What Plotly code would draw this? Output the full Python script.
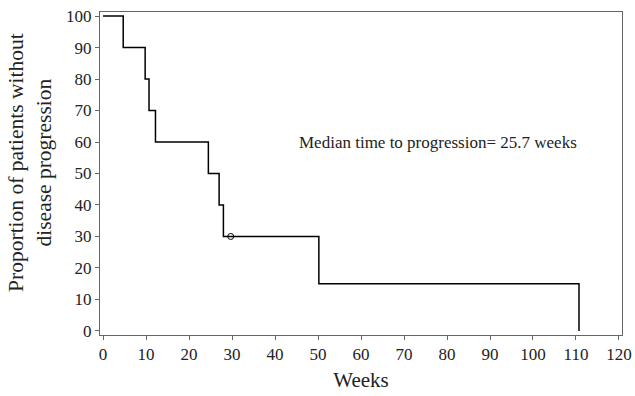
import plotly.graph_objects as go

# Kaplan-Meier step data (weeks, % without progression)
weeks = [0, 4.7, 9.8, 10.7, 12.2, 24.5, 27.0, 28.0, 50.2, 110.7, 110.7]
surv = [100, 90, 80, 70, 60, 50, 40, 30, 15, 15, 0]
censor_weeks = [29.7]
censor_surv = [30]

x_ticks = list(range(0, 121, 10))
y_ticks = list(range(0, 101, 10))

font = "Liberation Serif"

fig = go.Figure()
fig.add_trace(go.Scatter(x=weeks, y=surv, mode="lines", line=dict(shape="hv", color="black", width=1.5),
                         showlegend=False, hoverinfo="skip"))
fig.add_trace(go.Scatter(x=censor_weeks, y=censor_surv, mode="markers",
                         marker=dict(symbol="circle-open", size=6, color="black", line=dict(width=1)),
                         showlegend=False))

fig.add_annotation(x=45.1, y=59.7, xanchor="left", yanchor="middle", showarrow=False,
                   text="Median time to progression= 25.7 weeks",
                   font=dict(family=font, size=17, color="#222"))

# y-axis title as a rotated annotation for precise placement
fig.add_annotation(xref="paper", yref="paper", x=-0.134, y=0.533, xanchor="center", yanchor="middle",
                   showarrow=False, textangle=-90,
                   text="Proportion of patients without<br>disease progression",
                   font=dict(family=font, size=21.5, color="#222"))

axis_common = dict(showgrid=False, zeroline=False, showline=True, linecolor="#666", linewidth=1,
                   mirror=True, ticks="outside", ticklen=4, tickcolor="#666", automargin=False,
                   tickfont=dict(family=font, size=17, color="#222"))

fig.update_xaxes(range=[-0.7, 120.7], tickvals=x_ticks,
                 title=dict(text="Weeks", font=dict(family=font, size=21, color="#222"), standoff=8),
                 **axis_common)
fig.update_yaxes(range=[-1.3, 101.3], tickvals=y_ticks, **axis_common)

fig.update_layout(width=635, height=396, margin=dict(l=100, r=13, t=12, b=61),
                  font=dict(family=font),
                  plot_bgcolor="white", paper_bgcolor="white")

fig.write_html("out.html", config={"displayModeBar": False},
               post_script="document.body.style.margin='0';")
